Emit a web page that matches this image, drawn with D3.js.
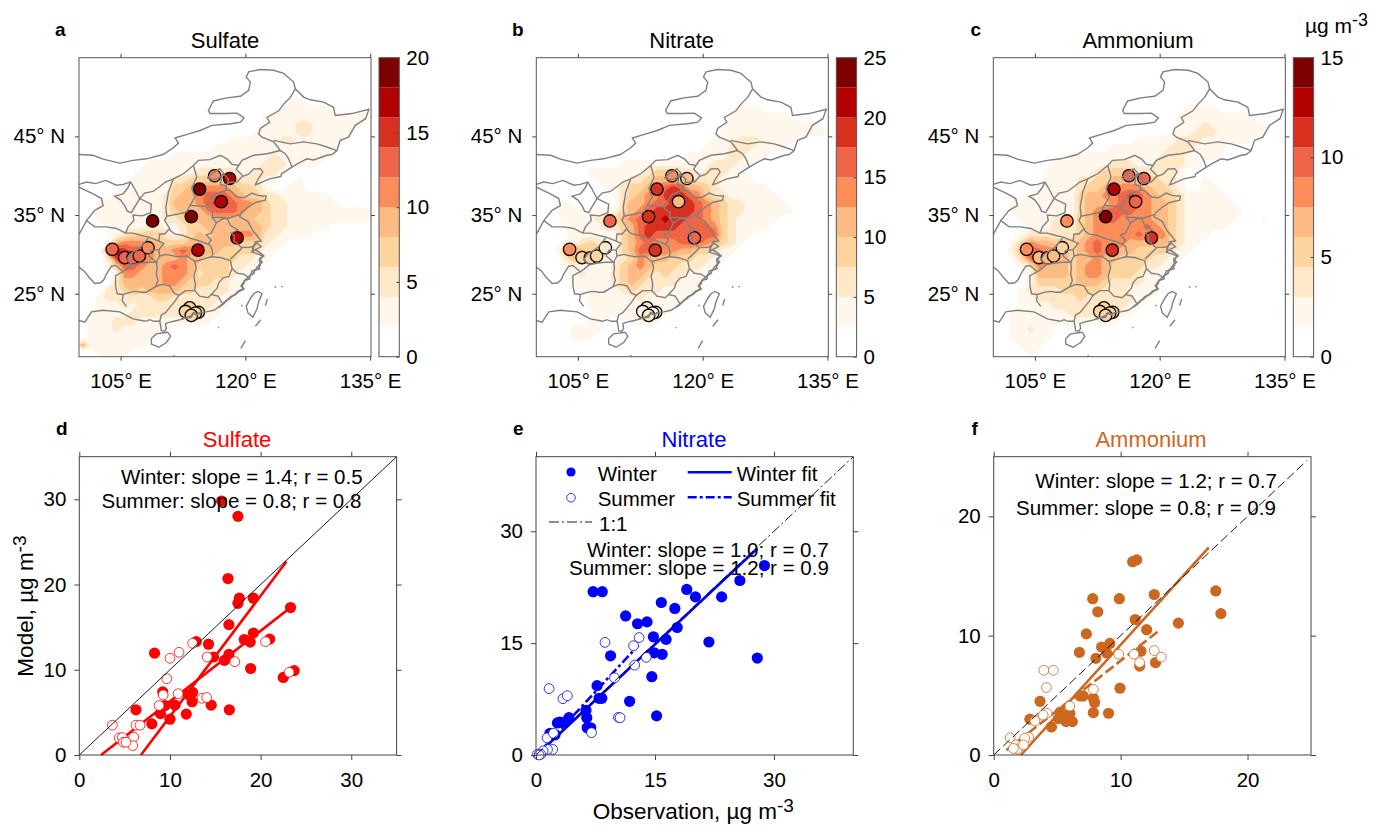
<!DOCTYPE html>
<html>
<head>
<meta charset="utf-8">
<script src="https://cdnjs.cloudflare.com/ajax/libs/d3/7.8.5/d3.min.js"></script>
<style>
  html, body { margin: 0; padding: 0; background: #fff; }
  text { font-family: "Liberation Sans", Arial, sans-serif; fill: #000; }
</style>
</head>
<body>
<div id="chart"></div>
<script>
// maps: one digit per 1 degree cell, band number on the colorbar. rows go lat 49 -> 17, cols lon 100 -> 134
var sulfateGrid = [
"00000 00000 00000 00000 00000 11000 00000",
"00000 00000 00000 00000 00001 11111 00000",
"00000 00000 00000 00000 00111 11111 11111",
"00000 00000 00000 00000 00111 12211 11110",
"00000 00000 00000 00000 01111 12211 11100",
"00000 00000 00000 00011 11112 21111 11000",
"00000 00000 00000 01111 11111 11111 10000",
"00000 00000 01111 11111 11121 11111 00000",
"00000 00011 11111 11111 11222 11110 00000",
"00000 00111 11112 22221 12221 00000 00000",
"00000 01111 12233 33332 22110 01000 00000",
"00000 11111 13345 55543 32100 11000 00000",
"00001 11111 23445 66654 33221 11111 00000",
"00111 11111 24445 67765 54322 11111 10000",
"00111 11111 23444 56665 44322 11111 11111",
"00111 11121 22344 44444 43322 11111 11111",
"00011 11122 11233 44444 44322 11111 00000",
"00001 23333 21234 34445 54221 11100 00000",
"00014 55544 33344 44443 33211 00000 00000",
"00068 76654 45655 44333 32110 00000 00000",
"00027 87654 44544 33332 21100 00000 00000",
"00013 66544 56543 33322 11000 00000 00000",
"00001 55444 55542 33321 10000 00000 00000",
"00002 44444 55433 32211 00000 00000 00000",
"00022 34344 44332 22211 00000 00000 00000",
"00122 22223 32222 22110 00000 00000 00000",
"00111 21222 22222 21100 00000 00000 00000",
"01111 12222 22222 11000 00000 00000 00000",
"01112 22111 11111 10000 00000 00000 00000",
"01112 11111 10000 00000 00000 00000 00000",
"01111 11110 00000 00000 00000 00000 00000",
"41111 11100 00000 00000 00000 00000 00000",
"00111 10000 00000 00000 00000 00000 00000"];

var nitrateGrid = [
"00000 00000 00000 00000 00000 00000 00000",
"00000 00000 00000 00000 00001 11000 00000",
"00000 00000 00000 00000 00011 11111 10000",
"00000 00000 00000 00000 00011 11111 11110",
"00000 00000 00000 00000 00111 11111 11111",
"00000 00000 00000 00000 01112 22111 10000",
"00000 00000 00000 00000 11122 21111 00000",
"00000 00000 00000 00011 11122 11100 00000",
"00000 00000 11111 11111 12221 10000 00000",
"00000 01111 11123 33221 22211 00000 00000",
"00000 00111 12234 44332 22111 10000 00000",
"00000 00011 23345 67644 32111 11100 00000",
"00000 00001 23455 77765 32211 11110 00000",
"00110 00000 34456 67776 54322 11111 00000",
"00111 10111 34567 77776 54322 11111 10000",
"00011 11233 45667 87766 54321 11110 00000",
"00011 11122 34677 77666 65321 11100 00000",
"00001 11111 34676 66666 66321 10000 00000",
"00011 23211 34565 55666 54321 00000 00000",
"00134 43311 34666 55443 32110 00000 00000",
"00024 32211 23544 43332 21100 00000 00000",
"00011 11112 34543 33222 11000 00000 00000",
"00001 21112 34432 32211 10000 00000 00000",
"00001 11112 34322 22111 00000 00000 00000",
"00000 11111 23222 11111 00000 00000 00000",
"00000 01111 11211 11100 00000 00000 00000",
"00000 01111 11111 11000 00000 00000 00000",
"00000 00111 11111 10000 00000 00000 00000",
"00000 01100 01111 00000 00000 00000 00000",
"00001 11100 00000 00000 00000 00000 00000",
"00001 11000 00000 00000 00000 00000 00000",
"00000 00000 00000 00000 00000 00000 00000",
"00000 00000 00000 00000 00000 00000 00000"];

var ammoniumGrid = [
"00000 00000 00000 00000 00000 00000 00000",
"00000 00000 00000 00000 00011 11000 00000",
"00000 00000 00000 00000 00111 11111 10000",
"00000 00000 00000 00000 00111 21111 11100",
"00000 00000 00000 00000 01112 22111 11100",
"00000 00000 00000 00111 11222 11111 10000",
"00000 00000 00001 11111 12221 11100 00000",
"00000 00001 11111 11111 22211 11000 00000",
"00000 00111 11112 22112 22211 00000 00000",
"00000 01111 11233 33222 22100 00000 00000",
"00000 01111 22334 44333 22100 10000 00000",
"00000 11111 23344 55543 32100 11000 00000",
"00001 11111 34455 67654 33211 11100 00000",
"00111 11111 34445 66654 43211 11110 00000",
"00111 11111 34566 66554 43211 11111 00000",
"00011 11222 34566 55554 43211 11110 00100",
"00001 11222 34555 55565 43211 11100 00000",
"00012 22222 34555 55655 53211 10000 00000",
"00135 44333 45655 54444 43211 00000 00000",
"00246 65543 45655 44333 32110 00000 00000",
"00136 65443 44544 33332 21100 00000 00000",
"00012 54443 45543 33322 11000 00000 00000",
"00001 44443 45543 33211 00000 00000 00000",
"00001 33333 44432 22211 00000 00000 00000",
"00012 22233 33322 21111 00000 00000 00000",
"00011 22222 32222 22110 00000 00000 00000",
"00011 11222 22222 21100 00000 00000 00000",
"00111 11112 22222 11000 00000 00000 00000",
"00111 11111 11111 00000 00000 00000 00000",
"00112 11000 00000 00000 00000 00000 00000",
"00111 11000 00000 00000 00000 00000 00000",
"00011 10000 00000 00000 00000 00000 00000",
"00001 00000 00000 00000 00000 00000 00000"];

// observation sites on the maps
var siteLon = [104.0, 105.5, 106.5, 107.25, 108.3, 108.85, 113.5, 114.5, 116.3, 118.1, 117.1, 119.0, 114.3, 113.3, 112.8, 114.35, 114.0, 113.5];
var siteLat = [30.65, 29.6, 29.55, 29.8, 30.85, 34.25, 34.8, 38.3, 40.0, 39.65, 36.7, 32.1, 30.55, 23.2, 22.75, 22.65, 22.55, 22.25];
var siteSulfate  = [13, 13, 13, 13, 11, 19, 19, 19, 11, 17, 17, 17, 17, 7, 7, 7, 7, 7];
var siteNitrate  = [14, 8, 8, 8, 6, 16, 19, 19, 14, 11, 11, 16, 19, 6, 4, 6, 4, 7];
var siteAmmonium = [8, 7, 7, 7, 5, 8, 14, 12.5, 10, 10, 10, 11, 11, 5, 5, 5, 5, 5];

var mapTitles = ["Sulfate", "Nitrate", "Ammonium"];
var mapMax = [20, 25, 15];
var mapTicks = [[0, 5, 10, 15, 20], [0, 5, 10, 15, 20, 25], [0, 5, 10, 15]];
var bandColors = ["#ffffff", "#fff7ec", "#fee8c8", "#fdd49e", "#fdbb84", "#fc8d59", "#ef6548", "#d7301f", "#b30000", "#7f0000"];

// boundaries, lon/lat
var boundaryLines = [
 // north border, mongolia and russia
 [[100,42.7],[101.7,42.6],[102.9,42.1],[104.9,41.6],[106.5,41.95],[108.1,42.15],[110.1,42.7],[111.35,43.55],[111.95,44.15],[111.55,44.8],[113,45.25],[114.55,45.75],[116,46.4],[118.2,46.6],[119.4,46.8],[119.85,47.35],[119,47.95],[117.75,47.9],[115.75,47.9],[115.55,48.3],[116.15,49.5],[117.75,49.9],[119.4,50.1],[120.4,50.85],[120.6,51.9],[120.1,52.55],[120.4,53.2],[121.8,53.5],[123.4,53.4],[124.6,53],[125.8,51.9],[126,51.05],[127,50],[127.8,49.65],[129.4,49.35],[130.6,48.7],[130.8,47.65],[132.8,47.9],[134.85,48.45],[134.45,47.25],[133.2,46.4],[132.4,44.9],[131.4,44.5],[131,43.2],[130.4,42.7],[129.8,42.6],[128.2,42],[127.4,42.15],[126.4,41.6],[125.6,41.1],[124.3,40.2],[124.3,39.9]],
 // coast
 [[124.3,39.9],[122.9,39.6],[121.6,39],[121.2,38.85],[121.5,39.5],[122.1,40.5],[121.8,40.9],[121,40.85],[120.4,40.2],[119.6,39.9],[119,39.2],[118,39.15],[117.7,38.8],[117.7,38.3],[118.3,38],[119,37.3],[119.8,37.2],[120.8,37.8],[121.5,37.5],[122.5,37.4],[122.4,36.9],[121.2,36.6],[120.3,36],[119.5,35.3],[119.3,34.8],[120.3,34.2],[120.9,33],[121.4,32.4],[121.9,31.7],[121.2,31.6],[121.9,31],[121.2,30.6],[120.8,30.3],[121.6,30],[122.1,29.8],[121.7,29.2],[121.8,28.6],[121.4,28.4],[121.2,28],[120.8,27.9],[120.6,27.3],[120.2,27],[119.9,26.6],[119.6,26.2],[119.7,25.6],[119.1,25.3],[118.8,24.9],[118.2,24.6],[117.9,24.3],[117.3,23.7],[116.8,23.3],[116.2,22.9],[115.3,22.7],[114.6,22.6],[114.2,22.3],[113.7,22.5],[113.5,22],[112.8,21.9],[111.8,21.6],[110.9,21.4],[110.4,21.2],[110.5,20.6],[110.3,20.25],[109.9,20.3],[109.8,21],[109.7,21.5],[109,21.5],[108.5,21.7],[108,21.5]],
 // south west border
 [[100,21.6],[100.7,21.4],[101.5,22.7],[102.9,22.9],[104.9,22.7],[106.5,21.8],[108,21.5]],
 // hainan, taiwan
 [[110.7,20.1],[111,19.6],[110.5,18.8],[109.6,18.2],[108.7,18.6],[108.7,19.3],[109.3,19.9],[110.7,20.1]],
 [[121.5,25.3],[122,25],[121.6,24],[121.4,23.1],[120.9,22],[120.3,22.6],[120.1,23.4],[120.6,24.4],[121,25],[121.5,25.3]],
 // islands and dashes
 [[122.65,24.35],[122.4,23.5]],
 [[121.2,20.85],[121.85,21.7]],
 [[119.45,18.05],[120,19.05]],
 [[123.5,25.85],[123.7,25.85]],
 [[124.3,25.9],[124.5,25.9]],
 [[116.7,20.7],[116.85,20.7]],
 [[111.3,17.1],[111.5,17.1]],
 [[119.6,23.6],[119.55,23.4]],
 // hebei, liaoning, jilin, inner mongolia line
 [[113.75,41.3],[114.35,41.95],[115.75,42.05],[117,42.6],[117.8,42.15],[118.4,41.45],[119.2,41.3],[119.6,41.95],[121,42.6],[122.6,42.8],[124.2,43.2]],
 [[124.2,43.2],[123.4,44.3],[122,44.9],[121.6,45.3],[121.8,46],[122.9,46.8],[122.6,47.4],[124,48.25],[124.6,49.1],[125.4,49.95],[126,51.05]],
 [[123.4,44.5],[125.4,44.05],[127,44.3],[128.6,44.05],[129.8,43.65],[131,43.2]],
 [[124.2,43.2],[124.8,42.8],[125.2,42.15],[125.6,41.1]],
 [[119.2,41.3],[118.9,40.8],[119.3,40.4],[119.7,40]],
 // shanxi
 [[113.75,41.3],[112.55,40.25],[111.35,39.6],[110.75,37.9],[110.45,36],[110.55,34.85],[111.75,35.1],[112.95,35.4],[113.35,36.25],[113.95,37.3],[113.55,38.35],[114.15,39.85],[113.75,41.3]],
 // hebei - shandong - henan
 [[113.35,36.25],[114.6,36.1],[115.3,36.1],[115.9,37],[116.3,37.6],[117,37.9],[117.8,38.2]],
 [[115.3,36.1],[115.5,35.7],[116.1,35.4],[116,34.7],[117,34.7],[118,34.6],[119.3,35.05]],
 // henan
 [[110.55,34.85],[110.3,34.3],[110.9,33.3],[111,33],[111.5,32.6],[112.5,32.4],[113.5,32],[114.5,31.7],[115.5,31.3],[115.9,31.8],[115.3,32.5],[115.9,32.7],[116.5,34],[116,34.7]],
 // shaanxi, ningxia, gansu
 [[111.35,39.6],[110.4,39.2],[109.8,38.7],[108.9,38],[107.9,37.8],[107.3,37.1],[108.7,36.4],[108.6,35.3],[107.6,34.9],[106.5,35],[106.6,34.3],[105.9,33.5],[105.6,32.7]],
 [[106.2,39.2],[105.9,38.5],[105.3,37.7],[104.3,37.4],[105,36.9],[105.5,36.2],[105.8,35.5],[106.3,35.3],[106.5,35.7],[107.3,37.1]],
 [[107.3,37.1],[106.9,37.9],[106.6,38.5],[106.2,39.2],[105.3,38.9],[104.5,38.8],[103.2,39.4],[102,39],[100.9,39.2],[100,38.9]],
 [[100,38.55],[101.7,37.7],[102.7,37.1],[102.9,36.2],[101.9,35.6],[100.9,34.3],[100.5,33.5],[100,32.55]],
 [[100.9,34.3],[101.9,33.5],[103.3,33.5],[104.5,33.3],[105.6,32.7]],
 // sichuan, chongqing, hubei
 [[105.6,32.7],[106.5,32.7],[107.5,32.4],[108.4,32.2],[109.6,31.7],[110.2,31.4],[109.6,30.6],[108.7,30.5],[108.4,29.8],[109.3,29],[108.3,29],[107.4,28.9],[106.4,28.7],[105.7,29.3],[106.2,30.1],[106.9,30.5],[107.5,31],[108.4,32.2]],
 [[109.6,31.7],[109.7,32.6],[110.3,32.6],[110.9,33.3]],
 [[109.6,30.6],[109.7,29.8],[109.3,29]],
 [[100,28.4],[100.6,27.9],[101.2,27.1],[101.9,26.3],[102.6,26.4],[103,26.8],[103.3,27.5],[103.9,28.5],[104.4,28.6],[105.3,27.8],[105.7,28.1],[106.4,28.7]],
 // guizhou, guangxi
 [[105.3,27.8],[104.4,27.3],[104.4,26],[104.6,25],[105.3,24.9],[106.2,25.2],[106.9,25.3],[107.5,25.2],[108.1,25.2],[109.2,25.9],[109.5,26.7],[109.3,27.5],[109.4,28.3],[109.3,29]],
 [[105.3,24.9],[105.2,24.1],[105.7,23.4]],
 [[109.2,25.9],[110,26.2],[110.9,26],[111.4,25.1],[112,24.8],[111.5,24],[110.4,22.6],[109.9,22.3],[109.7,21.5]],
 // hunan, jiangxi, fujian
 [[109.7,29.8],[110.5,30],[111.8,29.7],[113,29.8],[113.9,29.1],[114.1,28.3],[113.8,27.2],[114,26.2],[113.9,25.4],[112.8,25.4],[112,24.8]],
 [[113.9,29.1],[114.9,29.4],[115.9,29.7],[116.1,30],[115.9,31],[115.5,31.3]],
 [[113.9,25.4],[114.5,24.7],[115.5,24.5],[115.9,24.9],[116.6,25.7],[116.8,26.4],[117.3,27],[118,27.2],[118.4,28.2],[118.2,29.2],[117,29.6],[115.9,29.7]],
 [[115.9,24.9],[116.7,24.7],[117.1,24],[117.3,23.7]],
 [[118.4,28.2],[119,27.6],[119.8,27.5],[120.4,27.1]],
 // anhui, jiangsu, zhejiang
 [[116.5,34],[117.2,34.5],[117.8,34.6],[118.2,33.7],[119.1,33.1],[118.3,32.7],[118.7,32.3],[118.6,31.7],[119.2,31.2],[119.6,30.8],[118.9,30.1],[118.2,29.4]],
 [[119.6,30.9],[120.5,30.9],[121,31],[121.2,31.5]],
 [[120.8,30.3],[121,30.9]],
 // beijing, tianjin
 [[115.4,39.7],[116,40.3],[116.9,40.9],[117.4,40.3],[116.8,39.7],[116.2,39.5],[115.4,39.7]],
 [[117.4,40.2],[118,39.5],[117.7,38.7],[117,38.9],[117.1,39.7],[117.4,40.2]]
];

// the island-heavy stretches of coast come out thick and ragged in the reference
var thickCoast = [
 [[121.2,30.6],[121.9,30.1],[122.2,29.8],[121.7,29.4],[122,29],[121.6,28.6],[121.7,28.2],[121.1,28],[121,27.6],[120.5,27.3],[120.5,26.9],[119.9,26.7],[119.8,26.3],[119.5,26],[119.8,25.6],[119.2,25.3],[118.9,25],[118.4,24.7],[118.1,24.4],[117.7,24.1],[117.2,23.6],[116.8,23.3]],
 [[114.6,22.6],[114.2,22.4],[113.8,22.6],[113.5,22.2],[113,22],[112.3,21.8]],
 [[120.9,30.3],[120.9,31],[121.4,31.5]]
];

// scatter panels
var sulfateWinter = [[15.7,29.8],[17.5,28],[16.4,20.7],[17.65,18.4],[17.5,17.8],[19.2,18.4],[23.3,17.3],[16.5,15.3],[19.2,14.3],[18.2,13.55],[21,13.6],[18.85,13.25],[12.9,13.3],[14.25,13],[8.3,11.95],[16.5,11.8],[14.8,11.5],[16,11.1],[18.9,10.15],[23.7,9.9],[22.5,9.1],[9.2,7.4],[12.5,7.35],[12,7.1],[12.45,6.25],[10.55,5.85],[14.55,5.85],[9.45,5.8],[6.25,5.3],[16.55,5.3],[8.95,4.85],[11.8,4.8],[8,3.65],[10,4.2]];
var sulfateSummer = [[3.65,3.5],[9.65,8.95],[10,11.35],[11,12.05],[12.5,13.1],[14.1,11.5],[17.15,10.95],[20.55,13.3],[23.15,9.7],[9.25,7.05],[8.8,5.8],[10.9,7.2],[13.55,6.65],[14.05,6.75],[6.25,3.5],[6.7,3.5],[4.4,2],[4.75,2.05],[6,2.1],[5.9,1.1],[4.85,1.5],[5.15,1.5]];
var sulfateFits = { winter: [[6.8,0],[22.85,22.7]], summer: [[2.4,0],[23.3,17.3]] };

var nitrateWinter = [[28.8,25.4],[25.7,23.4],[7.2,21.9],[8.35,21.9],[19,22.2],[20.1,21.2],[23.4,21.2],[15.8,20.45],[17.5,19.65],[11.3,18.65],[14,17.85],[12.8,17.6],[17.8,17.1],[14.8,15.85],[16.4,15.5],[21.8,15.15],[14.9,13.7],[15.9,13.5],[9.4,13.3],[27.9,13],[14.6,10.5],[7.7,9.3],[7.95,7.6],[8.3,7.6],[11.8,7.2],[15.2,5.25],[6.3,6],[6.4,5],[6.45,3.65],[6.9,3.65],[4.15,5],[3,4.4],[2.7,4.3],[3.75,4.45],[1.75,2.9],[2.4,2.7]];
var nitrateSummer = [[1.65,8.9],[3.4,7.55],[3.95,7.95],[8.7,15.1],[13,15.75],[12.3,14.65],[12.45,12.05],[13.9,13.1],[9.9,10.35],[10.4,5.05],[10.6,5],[7,3],[1.4,2.3],[2.2,2.9],[2.1,0.75],[1.45,0.75],[0.9,0.55],[0.6,0.1],[0.2,0.1],[0.4,0]];
var nitrateFits = { winter: [[0.1,0],[27.9,27.7]], summer: [[0.1,0],[12.9,14.7]] };

var ammoniumWinter = [[11.27,16.35],[10.95,16.2],[7.8,13.1],[9.9,13.1],[12.65,13.45],[17.5,13.75],[17.9,11.85],[8.2,12],[14.55,11.05],[11.15,11.35],[12.05,10.5],[7.3,10.15],[9.15,9.35],[8.5,9.05],[6.75,8.6],[8.9,8.55],[8.05,8.1],[11.6,8.7],[11.5,7.45],[12.75,7.75],[9.95,5.6],[7.05,4.95],[6.8,4.95],[7.85,4.75],[7.95,4.4],[7.85,3.55],[9.05,3.5],[3.65,4.5],[2.85,3],[4.55,2.35],[5.25,3.6],[6,3.5],[5.5,3.2],[5.1,3.05],[5.7,2.8],[6.2,2.8]];
var ammoniumSummer = [[3.95,7.1],[4.7,7.1],[4.15,5.65],[9.85,8.45],[11.05,8.45],[12.65,8.75],[13.2,8.2],[11.5,7.75],[7.85,5.5],[6,4.1],[4.2,3.5],[3.9,3.35],[3.25,2.85],[1.3,1.45],[2.75,1.5],[2.45,1.4],[1.75,0.85],[1.85,0.5],[1.55,0.55],[2.35,0.85]];
var ammoniumFits = { winter: [[2.15,0],[16.95,17.4]], summer: [[1,0.4],[13,10.4]] };

var scatterTitles = ["Sulfate", "Nitrate", "Ammonium"];
var scatterColors = ["#ff0000", "#0000ff", "#cd6720"];
var scatterMax = [35, 40, 25];
var scatterTicks = [[0, 10, 20, 30], [0, 15, 30], [0, 10, 20]];
var winterLabels = ["Winter: slope = 1.4; r = 0.5", "Winter: slope = 1.0; r = 0.7", "Winter: slope = 1.2; r = 0.7"];
var summerLabels = ["Summer: slope = 0.8; r = 0.8", "Summer: slope = 1.2; r = 0.9", "Summer: slope = 0.8; r = 0.9"];

var width = 1386, height = 830;
var tickFont = 20.5, titleFont = 22, statFont = 20.5, letterFont = 19;
var gridW = 35, gridH = 38;

var svg = d3.select("#chart").append("svg")
  .attr("width", width).attr("height", height)
  .style("display", "block");

function parseGrid(rows) {
  // five empty rows for lat 54 - 50 on top
  var vals = d3.range(5 * gridW).map(function() { return 0; });
  rows.forEach(function(r) {
    r.replace(/ /g, "").split("").forEach(function(c) { vals.push(+c); });
  });
  return vals;
}

function styleAxis(g, size) {
  g.select(".domain").remove();
  g.selectAll("line").attr("stroke", "#444").attr("stroke-width", 1);
  g.selectAll("text").style("font-size", size + "px")
    .style("font-family", '"Liberation Sans", Arial, sans-serif').attr("fill", "#000");
}

function drawMap(i, left, grid, siteValues, letter, titleX, letterX) {
  var right = left + 292, top = 57.7, bottom = 356.7;
  var x = d3.scaleLinear().domain([100, 135.1]).range([left, right]);
  var y = d3.scaleLinear().domain([17, 55]).range([bottom, top]);
  var g = svg.append("g");

  g.append("clipPath").attr("id", "mapclip" + i).append("rect")
    .attr("x", left).attr("y", top).attr("width", right - left).attr("height", bottom - top);
  var inner = g.append("g").attr("clip-path", "url(#mapclip" + i + ")");

  var contours = d3.contours().size([gridW, gridH]).thresholds(d3.range(0.5, 9, 1))(parseGrid(grid));
  var path = d3.geoPath(d3.geoTransform({
    point: function(px, py) { this.stream.point(x(100 + px), y(55 - py)); }
  }));
  inner.selectAll("path.band").data(contours).enter().append("path")
    .attr("class", "band")
    .attr("d", path)
    .attr("fill", function(d, k) { return bandColors[k + 1]; });

  var bandScale = d3.scaleQuantize().domain([0, mapMax[i]]).range(bandColors);
  inner.selectAll("circle").data(siteLon).enter().append("circle")
    .attr("cx", function(d) { return x(d); })
    .attr("cy", function(d, k) { return y(siteLat[k]); })
    .attr("r", 6.2)
    .attr("fill", function(d, k) { return bandScale(siteValues[k]); })
    .attr("stroke", "#000").attr("stroke-width", 1.3);

  var line = d3.line().x(function(d) { return x(d[0]); }).y(function(d) { return y(d[1]); });
  inner.selectAll("path.bound").data(boundaryLines).enter().append("path")
    .attr("class", "bound")
    .attr("d", line)
    .attr("fill", "none").attr("stroke", "#808080").attr("stroke-width", 1.4);
  inner.selectAll("path.thick").data(thickCoast).enter().append("path")
    .attr("class", "thick")
    .attr("d", line)
    .attr("fill", "none").attr("stroke", "#808080").attr("stroke-width", 1.8);

  g.append("rect").attr("x", left).attr("y", top).attr("width", right - left).attr("height", bottom - top)
    .attr("fill", "none").attr("stroke", "#555").attr("stroke-width", 1);

  var lonTicks = [105, 120, 135], latTicks = [45, 35, 25];
  var lonFmt = function(d) { return d + "\u00b0 E"; }, latFmt = function(d) { return d + "\u00b0 N"; };
  g.append("g").attr("transform", "translate(0," + bottom + ")")
    .call(d3.axisBottom(x).tickValues(lonTicks).tickFormat(lonFmt).tickSize(4).tickPadding(13))
    .call(styleAxis, tickFont);
  g.append("g").attr("transform", "translate(0," + top + ")")
    .call(d3.axisTop(x).tickValues(lonTicks).tickFormat("").tickSize(4)).call(styleAxis, tickFont);
  g.append("g").attr("transform", "translate(" + left + ",0)")
    .call(d3.axisLeft(y).tickValues(latTicks).tickFormat(latFmt).tickSize(4).tickPadding(10))
    .call(styleAxis, tickFont);
  g.append("g").attr("transform", "translate(" + right + ",0)")
    .call(d3.axisRight(y).tickValues(latTicks).tickFormat("").tickSize(4)).call(styleAxis, tickFont);

  // colorbar
  var barL = right + 8, barW = 20.3;
  var c = d3.scaleLinear().domain([0, mapMax[i]]).range([bottom, top]);
  var step = mapMax[i] / 10;
  g.selectAll("rect.cb").data(bandColors).enter().append("rect")
    .attr("class", "cb")
    .attr("x", barL).attr("width", barW)
    .attr("y", function(d, k) { return c((k + 1) * step); })
    .attr("height", function(d, k) { return c(k * step) - c((k + 1) * step); })
    .attr("fill", function(d) { return d; });
  g.append("rect").attr("x", barL).attr("y", top).attr("width", barW).attr("height", bottom - top)
    .attr("fill", "none").attr("stroke", "#555").attr("stroke-width", 1);
  g.append("g").attr("transform", "translate(" + (barL + barW) + ",0)")
    .call(d3.axisRight(c).tickValues(mapTicks[i]).tickSize(-3).tickPadding(7))
    .call(styleAxis, tickFont);

  g.append("text").attr("x", titleX).attr("y", 48).attr("text-anchor", "middle")
    .style("font-size", titleFont + "px").text(mapTitles[i]);
  g.append("text").attr("x", letterX).attr("y", 36)
    .style("font-size", letterFont + "px").style("font-weight", "bold").text(letter);
}

function drawScatter(i, left, winter, summer, fits, letter, titleX, letterX) {
  var right = left + 317.3, top = 456.7, bottom = 755;
  var color = scatterColors[i];
  var x = d3.scaleLinear().domain([0, scatterMax[i]]).range([left, right]);
  var y = d3.scaleLinear().domain([0, scatterMax[i]]).range([bottom, top]);
  var g = svg.append("g");
  var line = d3.line().x(function(d) { return x(d[0]); }).y(function(d) { return y(d[1]); });

  g.selectAll("circle.w").data(winter).enter().append("circle")
    .attr("class", "w")
    .attr("cx", function(d) { return x(d[0]); })
    .attr("cy", function(d) { return y(d[1]); })
    .attr("r", 5.6).attr("fill", color);

  g.append("path").attr("d", line(fits.winter)).attr("fill", "none")
    .attr("stroke", color).attr("stroke-width", 2.6);
  g.append("path").attr("d", line(fits.summer)).attr("fill", "none")
    .attr("stroke", color).attr("stroke-width", 2.6)
    .attr("stroke-dasharray", i === 1 ? "9,3,3,3" : (i === 2 ? "10,4" : null));

  g.selectAll("circle.s").data(summer).enter().append("circle")
    .attr("class", "s")
    .attr("cx", function(d) { return x(d[0]); })
    .attr("cy", function(d) { return y(d[1]); })
    .attr("r", 4.9).attr("fill", "#fff").attr("stroke", color).attr("stroke-width", 0.8);

  var end = i === 2 ? 24.7 : scatterMax[i];
  g.append("path").attr("d", line([[0, 0], [end, end]])).attr("fill", "none")
    .attr("stroke", "#000").attr("stroke-width", 0.9)
    .attr("stroke-dasharray", i === 1 ? "10,3,2,3" : (i === 2 ? "9,4" : null));

  g.append("rect").attr("x", left).attr("y", top).attr("width", right - left).attr("height", bottom - top)
    .attr("fill", "none").attr("stroke", "#444").attr("stroke-width", 1);

  var ticks = scatterTicks[i];
  g.append("g").attr("transform", "translate(0," + bottom + ")")
    .call(d3.axisBottom(x).tickValues(ticks).tickSize(5).tickPadding(12)).call(styleAxis, tickFont);
  g.append("g").attr("transform", "translate(" + left + ",0)")
    .call(d3.axisLeft(y).tickValues(ticks).tickSize(5).tickPadding(8)).call(styleAxis, tickFont);
  g.append("g").attr("transform", "translate(0," + top + ")")
    .call(d3.axisTop(x).tickValues(ticks).tickFormat("").tickSize(5)).call(styleAxis, tickFont);
  g.append("g").attr("transform", "translate(" + right + ",0)")
    .call(d3.axisRight(y).tickValues(ticks).tickFormat("").tickSize(5)).call(styleAxis, tickFont);

  g.append("text").attr("x", titleX).attr("y", 447).attr("text-anchor", "middle")
    .style("font-size", titleFont + "px").style("fill", color).text(scatterTitles[i]);
  g.append("text").attr("x", letterX).attr("y", 435)
    .style("font-size", letterFont + "px").style("font-weight", "bold").text(letter);
  return g;
}

drawMap(0, 79, sulfateGrid, siteSulfate, "a", 225, 55);
drawMap(1, 536.3, nitrateGrid, siteNitrate, "b", 681.7, 512);
drawMap(2, 993.3, ammoniumGrid, siteAmmonium, "c", 1138, 970.5);

var gd = drawScatter(0, 79.3, sulfateWinter, sulfateSummer, sulfateFits, "d", 237, 56);
var ge = drawScatter(1, 536, nitrateWinter, nitrateSummer, nitrateFits, "e", 694, 513);
var gf = drawScatter(2, 993.7, ammoniumWinter, ammoniumSummer, ammoniumFits, "f", 1151, 971.5);

// stats text on top of the marks
function stat(g, x, y, txt) {
  g.append("text").attr("x", x).attr("y", y).style("font-size", statFont + "px").text(txt);
}
stat(gd, 121, 484, winterLabels[0]);
stat(gd, 101.5, 507.7, summerLabels[0]);
stat(ge, 587, 556.7, winterLabels[1]);
stat(ge, 569, 575, summerLabels[1]);
stat(gf, 1035.3, 487.7, winterLabels[2]);
stat(gf, 1016, 515, summerLabels[2]);

// legend in panel e
var legendColor = scatterColors[1];
ge.append("circle").attr("cx", 571).attr("cy", 472).attr("r", 4.6).attr("fill", legendColor);
ge.append("circle").attr("cx", 571).attr("cy", 497.7).attr("r", 4.3).attr("fill", "#fff").attr("stroke", legendColor).attr("stroke-width", 0.8);
ge.append("line").attr("x1", 549).attr("x2", 592).attr("y1", 522).attr("y2", 522).attr("stroke", "#000").attr("stroke-width", 0.9).attr("stroke-dasharray", "10,3,2,3");
ge.append("line").attr("x1", 687.7).attr("x2", 731.7).attr("y1", 472.3).attr("y2", 472.3).attr("stroke", legendColor).attr("stroke-width", 2.6);
ge.append("line").attr("x1", 687.7).attr("x2", 731.7).attr("y1", 497.3).attr("y2", 497.3).attr("stroke", legendColor).attr("stroke-width", 2.6).attr("stroke-dasharray", "9,3,3,3");
[["Winter", 597.7, 480.7], ["Summer", 597.7, 506], ["1:1", 599, 531], ["Winter fit", 736.7, 480.7], ["Summer fit", 736.7, 506]].forEach(function(d) {
  ge.append("text").attr("x", d[1]).attr("y", d[2]).style("font-size", statFont + "px").text(d[0]);
});

// unit labels
function unitLabel(x, y, prefix, size, rotate) {
  var t = svg.append("text").attr("x", x).attr("y", y).style("font-size", size + "px");
  if (rotate) t.attr("transform", "rotate(-90 " + x + " " + y + ")").attr("text-anchor", "middle");
  t.append("tspan").text(prefix);
  t.append("tspan").attr("dy", -7).style("font-size", (size * 0.85) + "px").text("-3");
}
unitLabel(1305, 33, "\u00b5g m", 21, false);
unitLabel(592.7, 819, "Observation, \u00b5g m", 22.5, false);
unitLabel(33, 606, "Model,  \u00b5g m", 22.5, true);
</script>
</body>
</html>
